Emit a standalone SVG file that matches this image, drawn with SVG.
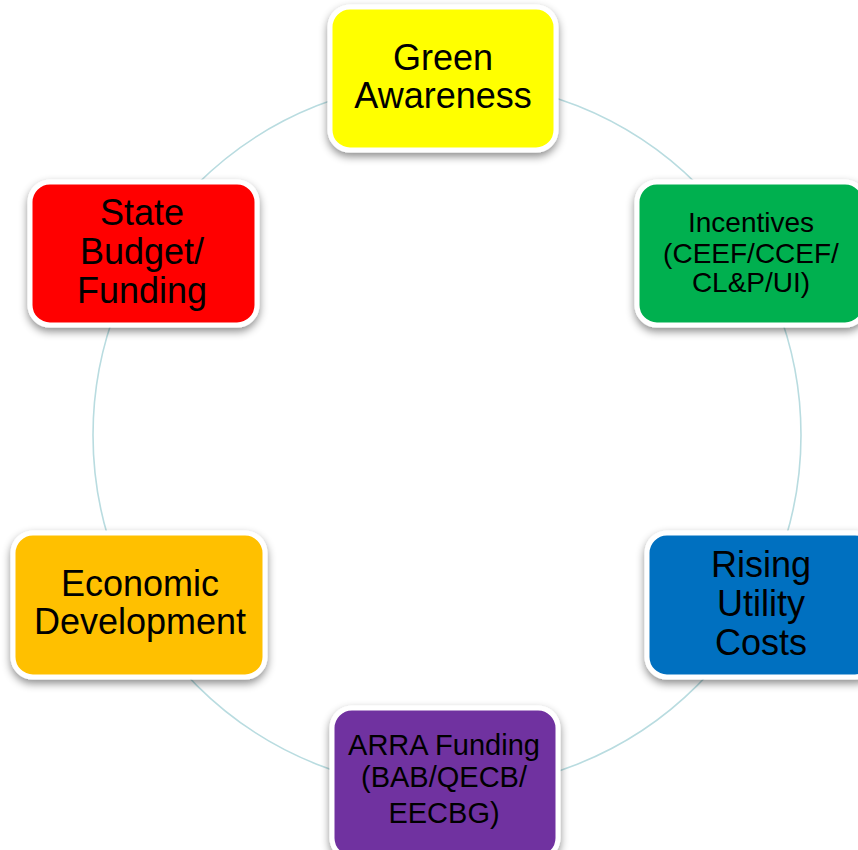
<svg xmlns="http://www.w3.org/2000/svg" width="858" height="850" viewBox="0 0 858 850">
<defs>
<filter id="sh" x="-20%" y="-20%" width="140%" height="150%">
<feDropShadow dx="0" dy="4" stdDeviation="4" flood-color="#000" flood-opacity="0.45"/>
</filter>
</defs>
<style>
.box{stroke:#fff;stroke-width:5;filter:url(#sh)}
.t{font-family:"Liberation Sans",Arial,sans-serif;fill:#000;text-anchor:middle}
.ring{fill:none;stroke:#b9dce0;stroke-width:1.6}
</style>
<rect width="858" height="850" fill="#fff"/>
<g id="connectors">
<circle class="ring" cx="447" cy="435" r="354"/>
</g>
<g id="green-awareness">
<rect class="box" x="330" y="7" width="226" height="143" rx="20" fill="#FFFF00"/>
<text class="t" font-size="36" x="443" y="70">Green</text>
<text class="t" font-size="36" x="443" y="108">Awareness</text>
</g>
<g id="incentives">
<rect class="box" x="637" y="182" width="228" height="143" rx="20" fill="#00B050"/>
<text class="t" font-size="28" x="751" y="232">Incentives</text>
<text class="t" font-size="28" x="751" y="263">(CEEF/CCEF/</text>
<text class="t" font-size="28" x="751" y="292">CL&amp;P/UI)</text>
</g>
<g id="rising-utility-costs">
<rect class="box" x="647" y="533" width="228" height="144" rx="20" fill="#0070C0"/>
<text class="t" font-size="36" x="761" y="577">Rising</text>
<text class="t" font-size="36" x="761" y="616">Utility</text>
<text class="t" font-size="36" x="761" y="655">Costs</text>
</g>
<g id="arra-funding">
<rect class="box" x="332" y="708" width="226" height="150" rx="20" fill="#7030A0"/>
<text class="t" font-size="29" x="444" y="755">ARRA Funding</text>
<text class="t" font-size="29" x="444" y="787">(BAB/QECB/</text>
<text class="t" font-size="29" x="444" y="823">EECBG)</text>
</g>
<g id="economic-development">
<rect class="box" x="13" y="533" width="252" height="144" rx="20" fill="#FFC000"/>
<text class="t" font-size="36" x="140" y="596">Economic</text>
<text class="t" font-size="36" x="140" y="634">Development</text>
</g>
<g id="state-budget">
<rect class="box" x="30" y="182" width="227" height="143" rx="20" fill="#FF0000"/>
<text class="t" font-size="36" x="142" y="225">State</text>
<text class="t" font-size="36" x="142" y="264">Budget/</text>
<text class="t" font-size="36" x="142" y="303">Funding</text>
</g>
</svg>
